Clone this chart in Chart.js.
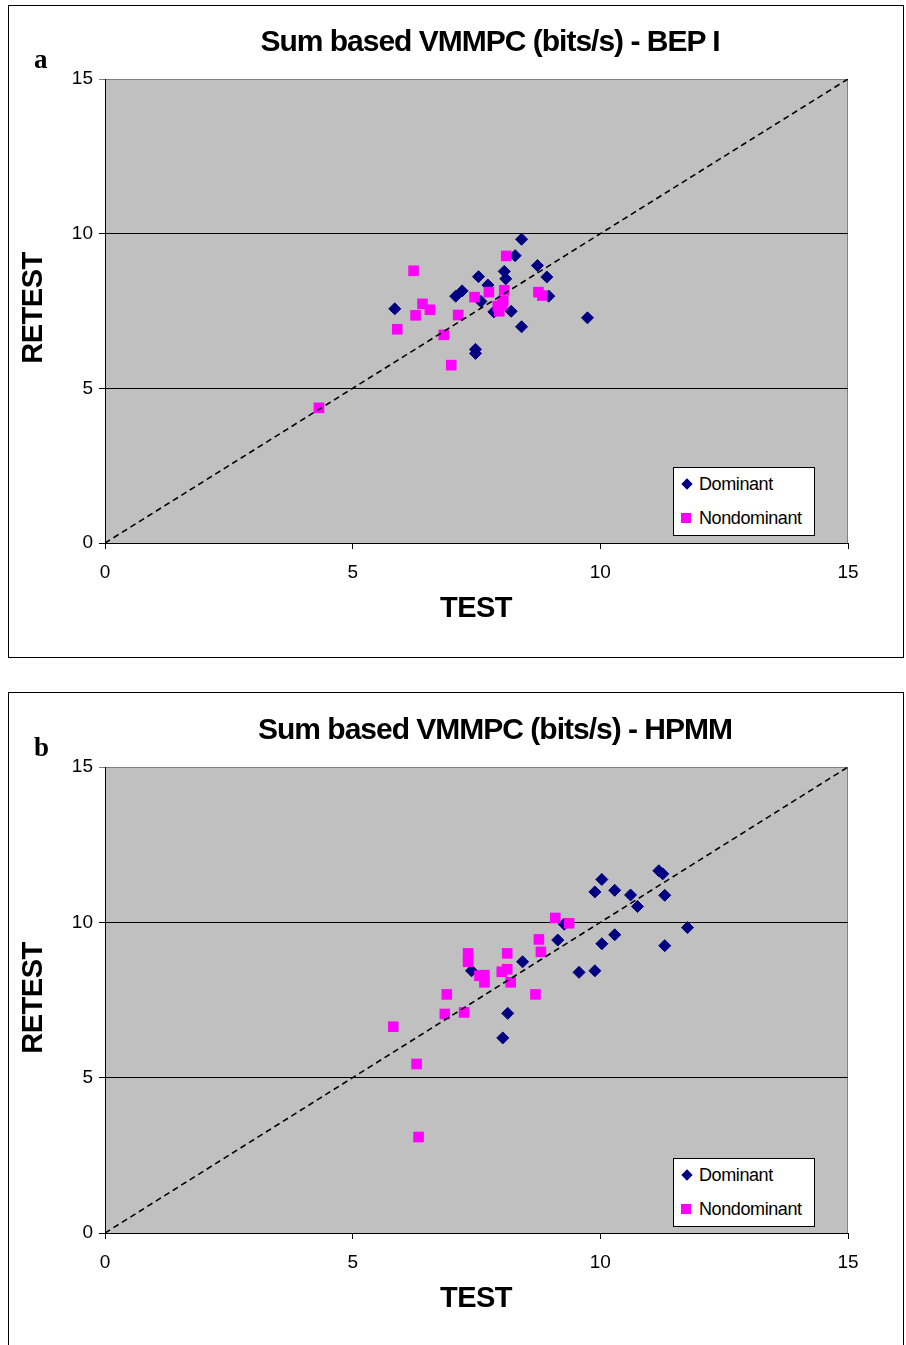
<!DOCTYPE html>
<html>
<head>
<meta charset="utf-8">
<script src="https://cdn.jsdelivr.net/npm/chart.js@4/dist/chart.umd.min.js"></script>
<style>
  html, body { margin: 0; padding: 0; background: #fff; }
  body { width: 906px; height: 1345px; position: relative; overflow: hidden; font-family: "Liberation Sans", Arial, sans-serif; }
  .box { position: absolute; border: 1px solid #000; box-sizing: border-box; }
  canvas { position: absolute; left: 0; }
  .t { position: absolute; white-space: nowrap; color: #000; }
  .title { font-weight: bold; font-size: 30px; letter-spacing: -1px; text-align: center; line-height: 30px; }
  .axt { font-weight: bold; font-size: 29px; letter-spacing: -0.5px; line-height: 29px; }
  .lab { font-family: "Liberation Serif", "Times New Roman", serif; font-weight: bold; font-size: 27px; line-height: 27px; }
  .legend { position: absolute; background: #fff; border: 1px solid #000; box-sizing: border-box; width: 142px; height: 69px; font-size: 18px; letter-spacing: -0.4px; }
  .legend .row { position: absolute; left: 25px; line-height: 20px; }
  .mk { position: absolute; }
</style>
</head>
<body>
<div class="box" style="left:8px;top:5px;width:896px;height:653px;"></div>
<div class="box" style="left:8px;top:692px;width:896px;height:670px;"></div>

<canvas id="cA" width="906" height="660" style="top:0px;"></canvas>
<canvas id="cB" width="906" height="655" style="top:690px;"></canvas>

<div class="t title" style="left:0;width:980px;top:26px;">Sum based VMMPC (bits/s) - BEP I</div>
<div class="t lab" style="left:34px;top:46px;">a</div>
<div class="t axt" style="left:32px;top:308px;transform:translate(-50%,-50%) rotate(-90deg);">RETEST</div>
<div class="t axt" style="left:476px;top:607px;transform:translate(-50%,-50%);">TEST</div>
<div class="legend" style="left:673px;top:467px;">
  <div class="mk" style="left:9px;top:12px;width:8px;height:8px;background:#000080;transform:rotate(45deg);"></div>
  <div class="row" style="top:6px;">Dominant</div>
  <div class="mk" style="left:7px;top:45px;width:10px;height:10px;background:#FF00FF;"></div>
  <div class="row" style="top:40px;">Nondominant</div>
</div>

<div class="t title" style="left:0;width:990px;top:714px;">Sum based VMMPC (bits/s) - HPMM</div>
<div class="t lab" style="left:34px;top:734px;">b</div>
<div class="t axt" style="left:32px;top:998px;transform:translate(-50%,-50%) rotate(-90deg);">RETEST</div>
<div class="t axt" style="left:476px;top:1297px;transform:translate(-50%,-50%);">TEST</div>
<div class="legend" style="left:673px;top:1158px;">
  <div class="mk" style="left:9px;top:12px;width:8px;height:8px;background:#000080;transform:rotate(45deg);"></div>
  <div class="row" style="top:6px;">Dominant</div>
  <div class="mk" style="left:7px;top:45px;width:10px;height:10px;background:#FF00FF;"></div>
  <div class="row" style="top:40px;">Nondominant</div>
</div>

<script>
// ---- Data ----
const axisMin = 0;
const axisMax = 15;
const tickStep = 5;
const identityLine = [0, 15];

// Panel a: BEP I
const domA_test   = [8.41, 8.28, 8.73, 8.92, 7.54, 8.06, 8.09, 7.73, 7.21, 7.08, 8.96, 5.85, 7.59, 7.85, 8.20, 8.41, 9.74, 7.48, 7.48];
const domA_retest = [9.82, 9.29, 8.97, 8.60, 8.61, 8.78, 8.54, 8.34, 8.15, 7.98, 7.98, 7.57, 7.81, 7.47, 7.49, 6.99, 7.28, 6.26, 6.13];
const nonA_test   = [8.10, 6.23, 7.75, 7.46, 8.06, 8.75, 8.83, 6.41, 6.56, 6.27, 7.13, 7.93, 8.04, 7.96, 8.02, 5.90, 6.84, 6.99, 4.32];
const nonA_retest = [9.28, 8.80, 8.11, 7.95, 8.17, 8.11, 8.00, 7.73, 7.54, 7.36, 7.37, 7.66, 7.83, 7.49, 7.70, 6.91, 6.73, 5.75, 4.37];

// Panel b: HPMM
const domB_test   = [10.03, 9.89, 10.29, 10.61, 10.75, 11.18, 11.26, 11.30, 11.76, 11.30, 10.29, 10.03, 9.57, 9.89, 9.27, 9.14, 8.43, 7.40, 8.13, 8.03];
const domB_retest = [11.38, 10.98, 11.03, 10.88, 10.51, 11.66, 11.56, 10.87, 9.83, 9.25, 9.60, 9.31, 8.39, 8.44, 9.94, 9.43, 8.73, 8.44, 7.07, 6.28];
const nonB_test   = [9.09, 9.37, 8.76, 8.80, 7.33, 7.33, 8.12, 8.12, 8.01, 7.56, 7.66, 7.66, 8.19, 8.69, 6.90, 6.86, 7.25, 5.82, 6.29, 6.33];
const nonB_retest = [10.14, 9.97, 9.45, 9.05, 9.00, 8.73, 9.00, 8.49, 8.41, 8.28, 8.30, 8.07, 8.07, 7.68, 7.68, 7.05, 7.10, 6.64, 5.44, 3.09];

const seriesNames = ['Dominant', 'Nondominant'];

// ---- helpers ----
const pts = (xs, ys) => xs.map((x, i) => ({ x: x, y: ys[i] }));

const plotBg = {
  id: 'plotBg',
  beforeDraw(chart) {
    const { ctx, chartArea: a } = chart;
    ctx.save();
    ctx.fillStyle = '#C0C0C0';
    ctx.fillRect(a.left, a.top, a.right - a.left, a.bottom - a.top);
    ctx.strokeStyle = '#808080';
    ctx.lineWidth = 1;
    ctx.strokeRect(a.left + 0.5, a.top + 0.5, a.right - a.left - 1, a.bottom - a.top);
    ctx.restore();
  }
};

function makeChart(id, domX, domY, nonX, nonY, pad) {
  const tickFont = { family: '"Liberation Sans", Arial, sans-serif', size: 19 };
  return new Chart(document.getElementById(id), {
    type: 'scatter',
    data: {
      datasets: [
        {
          label: 'identity',
          data: identityLine.map(v => ({ x: v, y: v })),
          showLine: true,
          borderColor: '#000',
          borderWidth: 1.6,
          borderDash: [6, 4],
          pointRadius: 0,
          order: 0
        },
        {
          label: seriesNames[1],
          data: pts(nonX, nonY),
          pointStyle: 'rect',
          pointRadius: 7.5,
          backgroundColor: '#FF00FF',
          borderColor: '#FF00FF',
          borderWidth: 0,
          order: 1
        },
        {
          label: seriesNames[0],
          data: pts(domX, domY),
          pointStyle: 'rectRot',
          pointRadius: 6,
          backgroundColor: '#000080',
          borderColor: '#000080',
          borderWidth: 1,
          order: 2
        }
      ]
    },
    options: {
      responsive: false,
      animation: false,
      devicePixelRatio: 1,
      layout: { padding: pad },
      plugins: { legend: { display: false }, tooltip: { enabled: false }, title: { display: false } },
      scales: {
        x: {
          type: 'linear',
          min: axisMin, max: axisMax,
          afterFit(s) { s.height = 40; },
          ticks: { stepSize: tickStep, color: '#000', font: tickFont, padding: 12, maxRotation: 0 },
          grid: { drawOnChartArea: false, drawTicks: true, tickLength: 6, color: '#000', lineWidth: 1 },
          border: { display: true, color: '#000', width: 1 }
        },
        y: {
          type: 'linear',
          min: axisMin, max: axisMax,
          afterFit(s) { s.width = 45; },
          ticks: { stepSize: tickStep, color: '#000', font: tickFont, padding: 6 },
          grid: {
            drawOnChartArea: true, drawTicks: true, tickLength: 6, lineWidth: 1,
            color: c => (c.tick && c.tick.value === axisMax) ? '#808080' : '#000'
          },
          border: { display: true, color: '#000', width: 1 }
        }
      }
    },
    plugins: [plotBg]
  });
}

makeChart('cA', domA_test, domA_retest, nonA_test, nonA_retest, { left: 60, right: 58, top: 79, bottom: 77 });
makeChart('cB', domB_test, domB_retest, nonB_test, nonB_retest, { left: 60, right: 58, top: 77, bottom: 72 });
</script>
</body>
</html>
